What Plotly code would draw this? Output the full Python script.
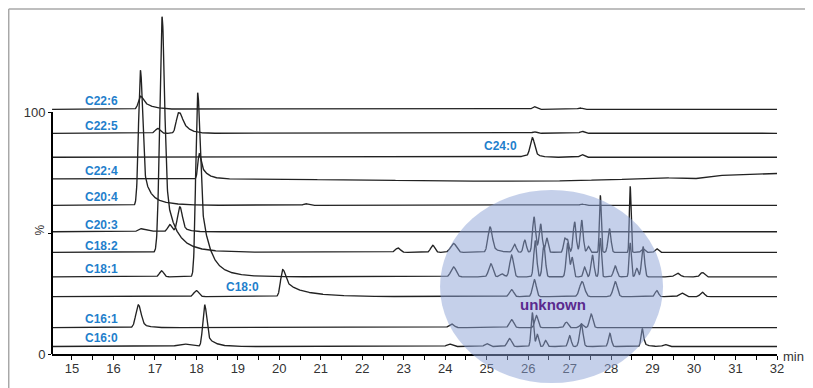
import numpy as np
import plotly.graph_objects as go

# ---------------- data ----------------
TIME_START, TIME_END = 14.52, 32.0

TRACE_NAMES = ["C22:6", "C22:5", "C24:0", "C22:4", "C20:4", "C20:3",
               "C18:2", "C18:1", "C18:0", "C16:1", "C16:0"]
# baseline level of every stacked trace (% of full scale)
TRACE_OFFSETS = [101.1, 91.2, 81.3, 72.4, 61.4, 50.5, 42.0, 31.9, 23.7, 10.9, 3.1]

# peak tables: (retention time min, height %, sigma min, tail1 amp, tail1 tau, tail2 amp, tail2 tau)
PEAKS_C22_6 = [(16.65, 5.4, 0.05, 4.5, 0.22, 0, 1), (26.15, 1.1, 0.05, 0, 1, 0, 1),
               (27.25, 0.6, 0.05, 0, 1, 0, 1)]
PEAKS_C22_5 = [(17.07, 2.0, 0.06, 0, 1, 0, 1), (17.57, 8.5, 0.055, 10, 0.15, 0, 1),
               (26.15, 0.6, 0.05, 0, 1, 0, 1), (27.3, 0.8, 0.05, 0, 1, 0, 1)]
PEAKS_C24_0 = [(25.95, 0.6, 0.1, 0, 1, 0, 1), (26.1, 7.9, 0.05, 3, 0.12, 0, 1),
               (27.3, 1.1, 0.05, 0, 1, 0, 1)]
PEAKS_C22_4 = [(18.07, 10.5, 0.035, 7, 0.15, 0.4, 0.4)]
PEAKS_C20_4 = [(16.65, 55.8, 0.045, 20, 0.12, 5, 0.42), (20.64, 0.7, 0.06, 0, 1, 0, 1),
               (27.3, 0.6, 0.05, 0, 1, 0, 1)]
PEAKS_C20_3 = [(16.65, 1.3, 0.06, 0.8, 0.3, 0, 1), (17.36, 2.9, 0.05, 0, 1, 0, 1),
               (17.6, 10.3, 0.055, 3, 0.15, 0, 1)]
PEAKS_C18_2 = [(17.17, 97.4, 0.055, 30, 0.2, 8, 0.5), (22.86, 1.8, 0.06, 0, 1, 0, 1),
               (23.7, 2.9, 0.05, 0, 1, 0, 1), (24.2, 3.7, 0.07, 0, 1, 0, 1),
               (25.08, 10.5, 0.05, 3, 0.15, 0, 1), (25.67, 3.3, 0.04, 0, 1, 0, 1),
               (25.92, 5.0, 0.035, 0, 1, 0, 1), (26.14, 14.7, 0.035, 3, 0.1, 0, 1),
               (26.3, 11.2, 0.035, 0, 1, 0, 1), (26.45, 5.8, 0.03, 0, 1, 0, 1),
               (26.88, 5.5, 0.03, 0, 1, 0, 1), (26.95, 5.0, 0.03, 0, 1, 0, 1),
               (27.12, 12.6, 0.035, 0, 1, 0, 1), (27.29, 13.3, 0.035, 0, 1, 0, 1),
               (27.45, 2.5, 0.03, 0, 1, 0, 1), (27.74, 23.6, 0.022, 0, 1, 0, 1),
               (27.96, 9.8, 0.035, 0, 1, 0, 1), (28.46, 27.3, 0.02, 0, 1, 0, 1),
               (28.77, 1.5, 0.04, 0, 1, 0, 1), (29.1, 1.5, 0.04, 0, 1, 0, 1)]
PEAKS_C18_1 = [(17.16, 2.5, 0.05, 0, 1, 0, 1), (18.03, 76.0, 0.045, 40, 0.18, 8, 0.45),
               (24.2, 4.1, 0.06, 0, 1, 0, 1), (25.1, 5.4, 0.05, 0, 1, 0, 1),
               (25.37, 1.2, 0.05, 0, 1, 0, 1), (25.6, 9.0, 0.045, 0, 1, 0, 1),
               (26.17, 15.0, 0.035, 0, 1, 0, 1), (26.38, 13.0, 0.035, 0, 1, 0, 1),
               (26.95, 14.0, 0.035, 0, 1, 0, 1), (27.06, 8.0, 0.03, 0, 1, 0, 1),
               (27.36, 4.0, 0.03, 0, 1, 0, 1), (27.55, 9.0, 0.035, 0, 1, 0, 1),
               (27.74, 16.0, 0.025, 0, 1, 0, 1), (28.1, 4.5, 0.04, 0, 1, 0, 1),
               (28.46, 14.0, 0.025, 0, 1, 0, 1), (28.62, 3.5, 0.03, 0, 1, 0, 1),
               (28.77, 12.5, 0.035, 0, 1, 0, 1), (29.6, 1.5, 0.06, 0, 1, 0, 1),
               (30.2, 1.8, 0.05, 0, 1, 0, 1)]
PEAKS_C18_0 = [(18.0, 2.5, 0.06, 0, 1, 0, 1), (20.08, 11.2, 0.05, 4, 0.15, 4.9, 0.6),
               (25.6, 2.9, 0.05, 0, 1, 0, 1), (26.15, 7.0, 0.045, 0, 1, 0, 1),
               (27.3, 6.2, 0.06, 0, 1, 0, 1), (28.1, 6.2, 0.05, 0, 1, 0, 1),
               (29.1, 2.5, 0.04, 0, 1, 0, 1), (29.7, 1.5, 0.06, 0, 1, 0, 1),
               (30.2, 1.8, 0.05, 0, 1, 0, 1)]
PEAKS_C16_1 = [(16.6, 9.4, 0.06, 3, 0.15, 0, 1), (24.15, 1.5, 0.06, 0, 1, 0, 1),
               (25.6, 3.3, 0.05, 0, 1, 0, 1), (26.2, 5.0, 0.04, 0, 1, 0, 1),
               (26.92, 2.3, 0.04, 0, 1, 0, 1), (27.28, 1.5, 0.04, 0, 1, 0, 1),
               (27.52, 5.6, 0.04, 0, 1, 0, 1)]
PEAKS_C16_0 = [(17.7, 1.0, 0.15, 0, 1, 0, 1), (18.2, 17.2, 0.045, 6, 0.18, 0, 1),
               (24.1, 1.0, 0.06, 0, 1, 0, 1), (25.0, 1.2, 0.05, 0, 1, 0, 1),
               (25.55, 3.3, 0.05, 0, 1, 0, 1), (26.1, 14.0, 0.03, 0, 1, 0, 1),
               (26.22, 5.0, 0.03, 0, 1, 0, 1), (26.42, 2.5, 0.03, 0, 1, 0, 1),
               (27.0, 4.5, 0.035, 0, 1, 0, 1), (27.28, 9.5, 0.04, 0, 1, 0, 1),
               (27.97, 5.4, 0.035, 0, 1, 0, 1), (28.75, 7.4, 0.03, 2, 0.1, 0, 1),
               (29.3, 0.8, 0.05, 0, 1, 0, 1)]

PEAK_TABLES = [PEAKS_C22_6, PEAKS_C22_5, PEAKS_C24_0, PEAKS_C22_4, PEAKS_C20_4,
               PEAKS_C20_3, PEAKS_C18_2, PEAKS_C18_1, PEAKS_C18_0, PEAKS_C16_1, PEAKS_C16_0]

# baseline drift of the C22:4 trace (time, shift %)
DRIFT_C22_4 = [(14.5, 0.0), (20.0, -0.2), (26.0, -1.2), (28.2, -0.3), (29.3, 0.4),
               (30.0, 0.0), (30.5, 1.3), (31.8, 2.2), (32.0, 2.2)]

X_TICKS = list(range(15, 33))

# ---------------- rendering ----------------
t = np.arange(TIME_START, TIME_END + 1e-9, 0.005)


def peak(tt, t0, h, s, a1, tau1, a2, tau2):
    g = np.exp(-0.5 * ((tt - t0) / s) ** 2)
    dt = np.clip(tt - t0, 0, None)
    tail = a1 * np.exp(-dt / tau1) + a2 * np.exp(-dt / tau2)
    tail = np.where(tt > t0, tail * (1 - g), 0.0)
    return h * g + tail


fig = go.Figure()
for name, off, table in zip(TRACE_NAMES, TRACE_OFFSETS, PEAK_TABLES):
    y = np.full_like(t, off)
    if name == "C22:4":
        dx, dy = zip(*DRIFT_C22_4)
        y = y + np.interp(t, dx, dy)
    for p in table:
        y = y + peak(t, *p)
    fig.add_trace(go.Scatter(x=t, y=y, mode="lines", name=name,
                             line=dict(color="#222222", width=1.35),
                             showlegend=False, hoverinfo="skip"))

FONT = "Liberation Sans, Arial, sans-serif"
LABEL_COLOR = "#1f7fcc"

label_pos = {
    "C22:6": (15.265, 104.7), "C22:5": (15.265, 94.3), "C24:0": (24.89, 86.1),
    "C22:4": (15.265, 75.7), "C20:4": (15.265, 65.0), "C20:3": (15.265, 53.3),
    "C18:2": (15.265, 44.7), "C18:1": (15.265, 35.1), "C18:0": (18.67, 27.8),
    "C16:1": (15.265, 14.6), "C16:0": (15.265, 6.5),
}
annotations = []
for name, (lx, ly) in label_pos.items():
    annotations.append(dict(x=lx, y=ly, xref="x", yref="y", text=name, showarrow=False,
                            xanchor="left", yanchor="middle",
                            font=dict(family=FONT, size=12, color=LABEL_COLOR, weight="bold")))
annotations.append(dict(x=26.6, y=20.5, xref="x", yref="y", text="unknown", showarrow=False,
                        xanchor="center", yanchor="middle",
                        font=dict(family=FONT, size=15, color="#5a2a8e", weight="bold")))
annotations.append(dict(x=1.023, y=-0.006, xref="paper", yref="paper", text="min",
                        showarrow=False, xanchor="center", yanchor="middle",
                        font=dict(family=FONT, size=13, color="#333333")))
annotations.append(dict(x=-0.0165, y=51.0, xref="paper", yref="y", text="%", showarrow=False,
                        textangle=-90, xanchor="center", yanchor="middle",
                        font=dict(family=FONT, size=12, color="#333333")))

shapes = [
    # y axis line only from 0 to 100
    dict(type="line", xref="paper", yref="y", x0=0, x1=0, y0=0, y1=100,
         line=dict(color="black", width=2)),
    # outer frame (top & left)
    dict(type="line", xref="paper", yref="paper", x0=-0.0597, x1=1.06, y0=1.003, y1=1.003,
         line=dict(color="#a8a8a8", width=1.5)),
    dict(type="line", xref="paper", yref="paper", x0=-0.0597, x1=-0.0597, y0=1.003, y1=-0.2,
         line=dict(color="#a8a8a8", width=1.5)),
    # "unknown" highlight ellipse
    dict(type="circle", xref="paper", yref="paper", x0=0.5352, x1=0.8428, y0=-0.0843, y1=0.4767,
         fillcolor="rgba(139,161,213,0.5)", line=dict(width=0), layer="above"),
]

# the page body adds an 8 px margin, so the figure is 8 px smaller than the window
fig.update_layout(
    width=805, height=380,
    margin=dict(l=44, r=36, t=2, b=34),
    paper_bgcolor="white", plot_bgcolor="white",
    font=dict(family=FONT, size=13, color="#333333"),
    xaxis=dict(range=[TIME_START - 0.002, TIME_END], showgrid=False, zeroline=False,
               showline=True, linecolor="black", linewidth=2,
               tickvals=X_TICKS, ticktext=[str(v) for v in X_TICKS],
               ticks="outside", ticklen=4, tickwidth=1.3, tickcolor="black",
               ticklabelstandoff=-3,
               minor=dict(dtick=0.5, tick0=0, ticks="outside", ticklen=4, tickwidth=1.3,
                          tickcolor="black", showgrid=False),
               tickfont=dict(size=13, color="#333333")),
    yaxis=dict(range=[0, 142.15], showgrid=False, zeroline=False, showline=False,
               tickvals=[0, 50, 100], ticktext=["0", "", "100"],
               ticks="outside", ticklen=3, tickwidth=1.3, tickcolor="black",
               tickfont=dict(size=13, color="#333333")),
    annotations=annotations,
    shapes=shapes,
)

fig.write_html("out.html")
